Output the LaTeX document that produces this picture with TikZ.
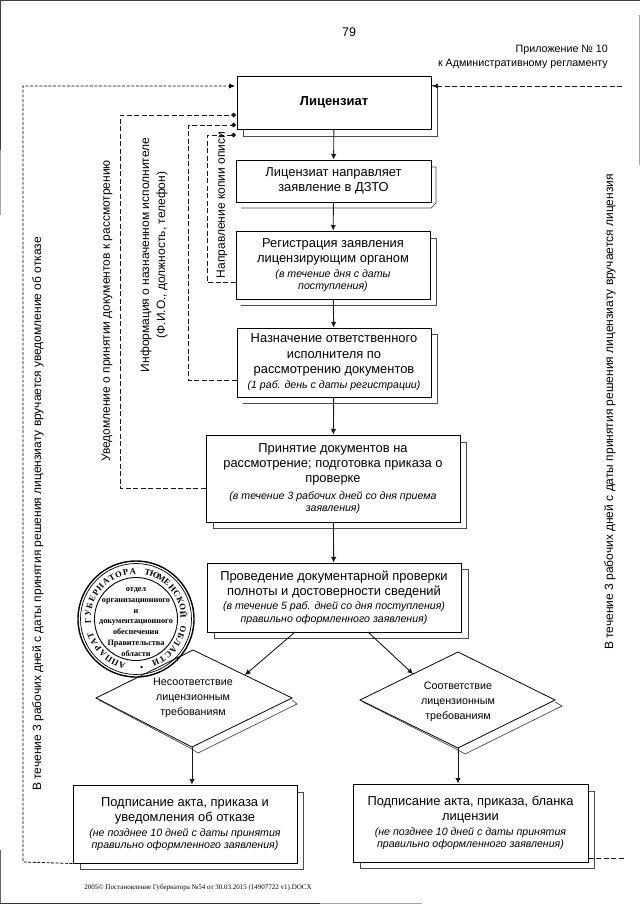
\documentclass[tikz,border=0pt]{standalone}
\usepackage{fontspec}
\setmainfont{Liberation Sans}
\newfontfamily\serfont{Liberation Serif}
\usetikzlibrary{arrows.meta,shapes.geometric}
\tikzset{
 x=1pt,y=-1pt,
 flowbox/.style={draw=black,line width=1pt,fill=white,align=center,inner sep=0pt,font=\fontsize{12.9}{15.4}\selectfont},
 shadow/.style={draw=black!70,line width=0.7pt},
 dashln/.style={draw=black!90,line width=0.8pt,dash pattern=on 5pt off 2.5pt},
 fdash/.style={draw=black,line width=0.8pt,dash pattern=on 3pt off 1.6pt},
 flow/.style={draw=black!90,line width=0.9pt,-{Latex[length=5.5pt,width=5.5pt]}},
 diamtip/.style={-{Diamond[length=5pt,width=5pt]}},
 tritip/.style={-{Latex[length=6pt,width=5pt]}},
 vlab/.style={rotate=90,font=\fontsize{12}{16}\selectfont,align=center,inner sep=0pt},
 diatext/.style={align=center,inner sep=0pt,font=\fontsize{10.7}{15}\selectfont},
 rhomb/.style={draw=black,line width=0.8pt,fill=white},
 stamptxt/.style={font=\serfont\bfseries\fontsize{8.2}{10.9}\selectfont,align=center,inner sep=0pt},
 ringch/.style={font=\serfont\bfseries\fontsize{8.6}{9}\selectfont,inner sep=0pt},
 hdr/.style={font=\fontsize{10.7}{14}\selectfont,align=right,inner sep=0pt},
}
\newcommand{\smi}[1]{{\fontsize{10.6}{12}\selectfont\itshape #1}}
\begin{document}
\begin{tikzpicture}
\useasboundingbox (0,0) rectangle (640,905);
\fill[white] (0,0) rectangle (640,905);
% scan edges
\draw[black!75,line width=0.9pt] (0,0.5) -- (640,0.5);
\draw[black!75,line width=0.9pt] (0.5,0) -- (0.5,150);
\draw[black!35,line width=0.9pt] (0.5,150) -- (0.5,215);
\draw[black!60,line width=0.9pt] (0.5,850) -- (0.5,903);
\draw[black!35,line width=0.9pt] (639.5,15) -- (639.5,165);
\draw[black!80,line width=0.9pt] (0,903.5) -- (320,903.5);
\draw[black!35,line width=0.9pt] (320,903.5) -- (422,903.5);
% header
\node[font=\fontsize{12.5}{14}\selectfont,inner sep=0pt] (pg) at (349,32) {79};
\node[hdr,anchor=north east] (pril) at (608,45) {Приложение № 10\\к Административному регламенту};
% shadows
\draw[shadow] (243,129) -- (243,136) -- (437,136) -- (437,85) -- (431,85);
\draw[shadow] (241,208) -- (431,208) -- (436,203) -- (436,167) -- (431,167);
\draw[shadow] (241,305) -- (436,305) -- (436,238) -- (430,238);
\draw[shadow] (243,403) -- (437,403) -- (437,334) -- (431,334);
\draw[shadow] (213,522) -- (213,528) -- (466,528) -- (466,442) -- (460,442);
\draw[shadow] (214,632) -- (214,638) -- (468,638) -- (468,569) -- (461,569);
\draw[shadow] (80,863) -- (80,869) -- (303,869) -- (303,792) -- (297,792);
\draw[shadow] (360,862) -- (360,868) -- (594,868) -- (594,791) -- (588,791);
% boxes
\node[flowbox,minimum width=194pt,minimum height=53pt,font=\fontsize{13}{15}\selectfont\bfseries] (lic) at (334,102.5) {Лицензиат};
\node[flowbox,minimum width=195pt,minimum height=42pt] (napr) at (333.5,181) {Лицензиат направляет\\заявление в ДЗТО};
\node[flowbox,minimum width=194pt,minimum height=68pt] (reg) at (333,265) {Регистрация заявления\\лицензирующим органом\\[-1pt]\smi{(в течение дня с даты}\\[-3pt]\smi{поступления)}};
\node[flowbox,minimum width=194pt,minimum height=69pt] (nazn) at (334,362.5) {Назначение ответственного\\исполнителя по\\рассмотрению документов\\\smi{(1 раб. день с даты регистрации)}};
\node[flowbox,minimum width=254pt,minimum height=87pt] (prin) at (333,478.5) {Принятие документов  на\\рассмотрение; подготовка приказа о\\проверке\\[1pt]\smi{(в течение 3 рабочих дней со дня приема}\\[-3pt]\smi{заявления)}};
\node[flowbox,minimum width=254pt,minimum height=69pt] (prov) at (334,597.5) {Проведение документарной проверки\\полноты и достоверности сведений\\[-1pt]\smi{(в течение 5 раб. дней со дня поступления)}\\[-3pt]\smi{правильно оформленного заявления)}};
\node[flowbox,minimum width=224pt,minimum height=78pt] (otk) at (185,824) {Подписание акта, приказа и\\уведомления об отказе\\[-1pt]\smi{(не позднее 10 дней с даты принятия}\\[-3pt]\smi{правильно оформленного заявления)}};
\node[flowbox,minimum width=235pt,minimum height=78pt] (lcz) at (470.5,823) {Подписание акта,  приказа,   бланка\\лицензии\\[-1pt]\smi{(не позднее 10 дней с даты принятия}\\[-3pt]\smi{правильно оформленного заявления)}};
% flow arrows
\draw[flow] (lic) -- (napr);
\draw[flow] (napr) -- (reg);
\draw[flow] (reg) -- (nazn);
\draw[flow] (nazn) -- (prin);
\draw[flow] (prin) -- (prov);
% diamonds
\coordinate (dlt) at (193,650); \coordinate (dll) at (96,698); \coordinate (dlb) at (192,747); \coordinate (dlr) at (292,698);
\coordinate (drt) at (458,652); \coordinate (drl) at (360,700); \coordinate (drb) at (458,748); \coordinate (drr) at (555,700);
\draw[shadow] (292,700) -- (297,704) -- (198,753) -- (192,749) -- (99,700);
\draw[shadow] (555,702) -- (562,706) -- (465,754) -- (458,750) -- (363,702);
\draw[rhomb] (dlt) -- (dlr) -- (dlb) -- (dll) -- cycle;
\draw[rhomb] (drt) -- (drr) -- (drb) -- (drl) -- cycle;
\node[diatext] (tl) at (193,698) {Несоответствие\\лицензионным\\требованиям};
\node[diatext] (tr) at (458,702) {Соответствие\\лицензионным\\требованиям};
\coordinate (a1s) at (295,632); \coordinate (a1e) at (245,675);
\coordinate (a2s) at (368,632); \coordinate (a2e) at (413,674);
\draw[flow] (a1s) -- (a1e);
\draw[flow] (a2s) -- (a2e);
\draw[flow] (dlb) -- (dlb |- otk.north);
\draw[flow] (drb) -- (drb |- lcz.north);
% dashed connectors
\coordinate (ol1) at (23,862); \coordinate (ol2) at (23,86);
\draw[fdash,tritip] (otk.south west) -- (ol1) -- (ol2) -- (235,86);
\coordinate (or1) at (622,86);
\draw[dashln,tritip] (or1) -- (432,86);
\coordinate (or2) at (624,858);
\draw[dashln] (lcz.east |- or2) -- (or2);
\coordinate (n1) at (120,488); \coordinate (n2) at (120,115);
\draw[dashln,diamtip] (prin.west |- n1) -- (n1) -- (n2) -- (236,115);
\coordinate (m1) at (188,380); \coordinate (m2) at (188,125);
\draw[dashln,diamtip] (nazn.west |- m1) -- (m1) -- (m2) -- (236,125);
\coordinate (k1) at (207,282); \coordinate (k2) at (207,135);
\draw[dashln,diamtip] (reg.west |- k1) -- (k1) -- (k2) -- (236,135);
% stamp
\draw[black,line width=1.4pt] (136,619) circle (58);
\draw[black,line width=0.7pt] (136,619) circle (55.5);
\draw[black,line width=0.9pt] (136,619) circle (41.5);
\foreach \ch [count=\i from 0] in {А,П,П,А,Р,А,Т,{},Г,У,Б,Е,Р,Н,А,Т,О,Р,А,{},Т,Ю,М,Е,Н,С,К,О,Й,{},О,Б,Л,А,С,Т,И,{},•}{
 \pgfmathsetmacro{\ang}{253-\i*8.85}
 \pgfmathsetmacro{\rot}{\ang-90}
 \node[ringch,rotate=\rot] at ({136+48*cos(\ang)},{619-48*sin(\ang)}) {\ch};
}
\node[stamptxt] (stt) at (136,622) {отдел\\организационного\\и\\документационного\\обеспечения\\Правительства\\области};
% footer
\node[font=\serfont\fontsize{7}{8}\selectfont,inner sep=0pt] (foot) at (198,888) {2005© Постановление Губернатора №54 от 30.03.2015 (14907722 v1).DOCX};
% vertical labels
\node[vlab] (v1) at (38,514) {В течение 3 рабочих дней с даты принятия решения  лицензиату вручается уведомление об отказе};
\node[vlab] (v2) at (610,412) {В течение 3 рабочих дней с даты принятия решения лицензиату вручается лицензия};
\node[vlab] (v3) at (107,311) {Уведомление о принятии документов к рассмотрению};
\node[vlab] (v4) at (154,255) {Информация о назначенном исполнителе\\(Ф.И.О., должность, телефон)};
\node[vlab] (v5) at (222,205) {Направление копии описи};
\end{tikzpicture}
\end{document}
